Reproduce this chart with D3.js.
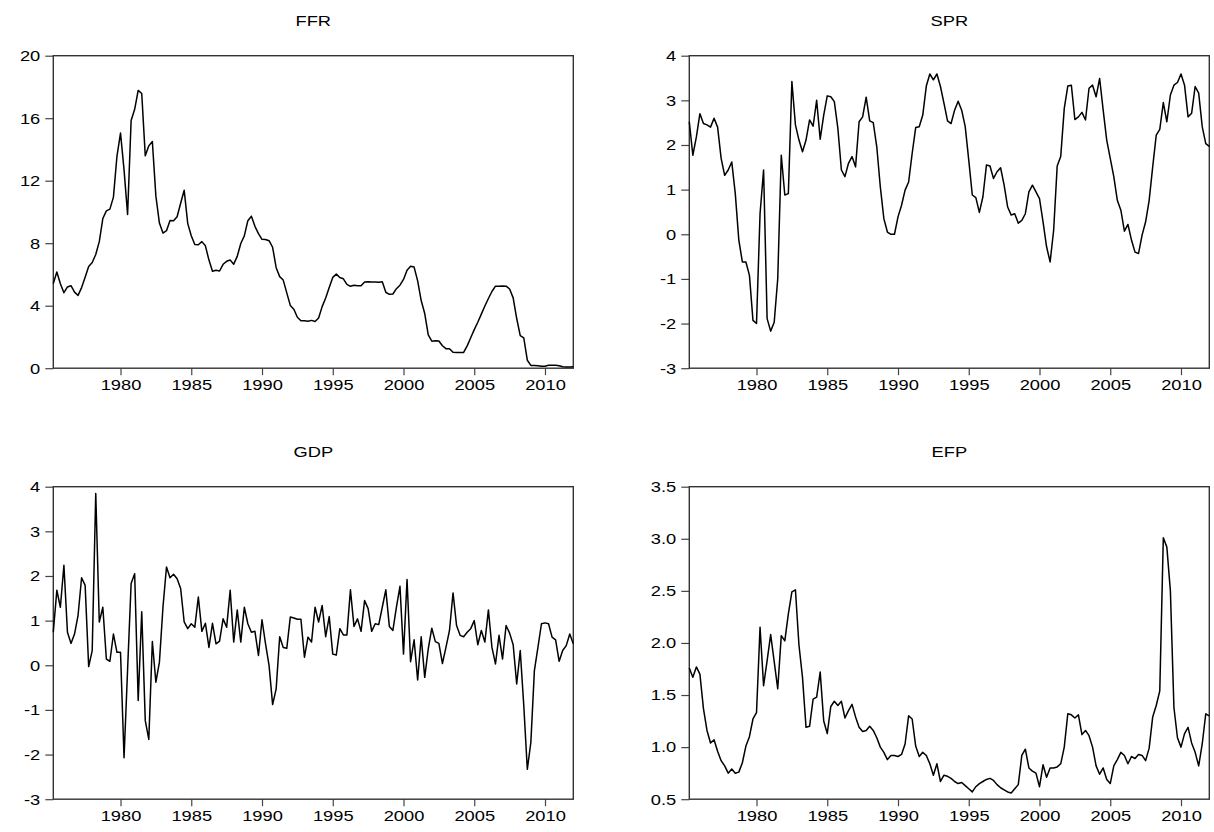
<!DOCTYPE html>
<html>
<head>
<meta charset="utf-8">
<script src="https://cdn.jsdelivr.net/npm/d3@7"></script>
<style>
  body { margin: 0; background: #fff; }
  svg { display: block; }
  text { font-family: Arial, "Liberation Sans", sans-serif; fill: #000; }
</style>
</head>
<body>
<script>
// Quarterly series, 1975Q2 .. 2012Q1 (148 observations)
const START = 1975.25;
const yearTicks = [1980, 1985, 1990, 1995, 2000, 2005, 2010];

const ffr = [
  5.42, 6.16, 5.41,
  4.83, 5.20, 5.28, 4.87,  4.66, 5.16, 5.82, 6.51,  6.76, 7.28, 8.10, 9.58,
  10.07, 10.18, 10.95, 13.58,  15.05, 12.69, 9.84, 15.85,  16.57, 17.78, 17.58, 13.59,
  14.23, 14.51, 11.01, 9.29,  8.65, 8.80, 9.46, 9.43,  9.69, 10.56, 11.39, 9.27,
  8.48, 7.92, 7.90, 8.10,  7.83, 6.92, 6.21, 6.27,  6.22, 6.65, 6.84, 6.92,
  6.66, 7.16, 7.98, 8.47,  9.44, 9.73, 9.08, 8.61,  8.25, 8.24, 8.16, 7.74,
  6.43, 5.86, 5.64, 4.82,  4.02, 3.77, 3.26, 3.04,  3.04, 3.00, 3.06, 2.99,
  3.21, 3.94, 4.49, 5.17,  5.81, 6.02, 5.80, 5.72,  5.36, 5.24, 5.31, 5.28,
  5.28, 5.52, 5.53, 5.51,  5.52, 5.50, 5.53, 4.86,  4.73, 4.75, 5.09, 5.31,
  5.68, 6.27, 6.52, 6.47,  5.59, 4.33, 3.50, 2.13,  1.73, 1.75, 1.74, 1.44,
  1.25, 1.25, 1.02, 1.00,  1.00, 1.01, 1.43, 1.95,  2.47, 2.94, 3.46, 3.98,
  4.46, 4.91, 5.25, 5.25,  5.26, 5.25, 5.07, 4.50,  3.18, 2.09, 1.94, 0.51,
  0.18, 0.18, 0.16, 0.12,  0.13, 0.19, 0.19, 0.19,  0.16, 0.09, 0.08, 0.07,
  0.10
];

const spr = [
  2.52, 1.77, 2.18,
  2.70, 2.48, 2.45, 2.40,  2.60, 2.40, 1.70, 1.32,  1.44, 1.62, 0.91, -0.13,
  -0.62, -0.62, -0.92, -1.93,  -2.00, 0.46, 1.44, -1.89,  -2.17, -1.97, -1.00, 1.77,
  0.88, 0.91, 3.42, 2.45,  2.11, 1.85, 2.11, 2.56,  2.42, 3.00, 2.13, 2.67,
  3.10, 3.08, 2.97, 2.37,  1.44, 1.29, 1.59, 1.74,  1.51, 2.52, 2.63, 3.07,
  2.54, 2.50, 1.96, 1.06,  0.35, 0.05, 0.00, 0.00,  0.39, 0.65, 0.99, 1.17,
  1.81, 2.39, 2.41, 2.67,  3.32, 3.59, 3.46, 3.59,  3.31, 2.93, 2.54, 2.48,
  2.78, 2.98, 2.78, 2.41,  1.66, 0.88, 0.82, 0.49,  0.84, 1.55, 1.53, 1.25,
  1.40, 1.49, 1.10, 0.61,  0.43, 0.46, 0.25, 0.31,  0.46, 0.95, 1.10, 0.95,
  0.80, 0.28, -0.28, -0.62,  0.09, 1.53, 1.74, 2.82,  3.32, 3.34, 2.57, 2.63,
  2.73, 2.56, 3.27, 3.34,  3.08, 3.49, 2.78, 2.11,  1.70, 1.29, 0.76, 0.54,
  0.07, 0.22, -0.13, -0.40,  -0.43, -0.02, 0.28, 0.76,  1.51, 2.22, 2.35, 2.95,
  2.52, 3.12, 3.34, 3.40,  3.59, 3.34, 2.63, 2.71,  3.31, 3.16, 2.41, 2.03,
  1.97
];

const gdp = [
  0.74, 1.68, 1.30,
  2.24, 0.74, 0.49, 0.70,  1.12, 1.96, 1.79, -0.03,  0.33, 3.85, 0.97, 1.30,
  0.14, 0.09, 0.70, 0.29,  0.29, -2.07, -0.10, 1.83,  2.05, -0.79, 1.20, -1.24,
  -1.66, 0.53, -0.38, 0.07,  1.30, 2.20, 1.96, 2.04,  1.94, 1.72, 0.97, 0.82,
  0.93, 0.85, 1.53, 0.76,  0.94, 0.40, 0.94, 0.48,  0.54, 1.04, 0.85, 1.68,
  0.52, 1.24, 0.52, 1.30,  0.93, 0.74, 0.76, 0.22,  1.02, 0.48, -0.01, -0.88,
  -0.53, 0.64, 0.40, 0.38,  1.08, 1.06, 1.03, 1.03,  0.18, 0.63, 0.52, 1.30,
  0.97, 1.34, 0.64, 1.09,  0.25, 0.23, 0.82, 0.68,  0.68, 1.69, 0.87, 1.04,
  0.76, 1.45, 1.27, 0.76,  0.93, 0.91, 1.30, 1.69,  0.87, 0.78, 1.30, 1.77,
  0.25, 1.92, 0.08, 0.57,  -0.33, 0.64, -0.27, 0.37,  0.83, 0.53, 0.49, 0.04,
  0.40, 0.78, 1.62, 0.89,  0.67, 0.64, 0.74, 0.82,  1.00, 0.46, 0.78, 0.52,
  1.24, 0.40, 0.03, 0.67,  0.14, 0.89, 0.72, 0.46,  -0.42, 0.33, -0.90, -2.33,
  -1.73, -0.12, 0.40, 0.93,  0.95, 0.93, 0.63, 0.57,  0.09, 0.33, 0.44, 0.70,
  0.48
];

const efp = [
  1.76, 1.67, 1.77,
  1.70, 1.37, 1.16, 1.04,  1.07, 0.96, 0.87, 0.82,  0.75, 0.79, 0.75, 0.76,
  0.85, 1.01, 1.10, 1.27,  1.33, 2.15, 1.59, 1.83,  2.08, 1.82, 1.56, 2.07,
  2.02, 2.28, 2.49, 2.51,  1.98, 1.67, 1.19, 1.20,  1.46, 1.48, 1.72, 1.25,
  1.13, 1.39, 1.44, 1.40,  1.44, 1.28, 1.35, 1.41,  1.29, 1.19, 1.15, 1.16,
  1.20, 1.16, 1.09, 1.00,  0.95, 0.88, 0.92, 0.92,  0.91, 0.93, 1.03, 1.30,
  1.27, 1.01, 0.91, 0.95,  0.92, 0.84, 0.73, 0.84,  0.67, 0.73, 0.72, 0.70,
  0.67, 0.65, 0.66, 0.63,  0.60, 0.57, 0.62, 0.65,  0.67, 0.69, 0.70, 0.68,
  0.64, 0.61, 0.59, 0.57,  0.56, 0.60, 0.64, 0.92,  0.98, 0.80, 0.77, 0.75,
  0.62, 0.83, 0.71, 0.80,  0.80, 0.81, 0.84, 1.00,  1.32, 1.31, 1.28, 1.31,
  1.12, 1.16, 1.11, 1.00,  0.82, 0.74, 0.80, 0.69,  0.65, 0.82, 0.88, 0.95,
  0.92, 0.84, 0.91, 0.89,  0.93, 0.92, 0.87, 0.99,  1.29, 1.40, 1.54, 3.01,
  2.92, 2.50, 1.38, 1.09,  1.00, 1.13, 1.19, 1.04,  0.95, 0.82, 1.03, 1.32,
  1.30
];

const ffrTicks = [0, 4, 8, 12, 16, 20];
const sprTicks = [-3, -2, -1, 0, 1, 2, 3, 4];
const gdpTicks = [-3, -2, -1, 0, 1, 2, 3, 4];
const efpTicks = [0.5, 1.0, 1.5, 2.0, 2.5, 3.0, 3.5];

// Layout
const WIDTH = 1214;
const HEIGHT = 832;
const PLOT_W = 520;
const PLOT_H = 312.5;
const COLS = [53.3, 689.3];
const ROWS = [55.7, 486.7];
const TEXT_SX = 1.22;   // the source graph's lettering is horizontally stretched

const svg = d3.select("body")
  .append("svg")
  .attr("width", WIDTH)
  .attr("height", HEIGHT);

const intFmt = (d) => String(d);

const panels = [
  { title: "FFR", values: ffr, domain: [0, 20], ticks: ffrTicks, fmt: intFmt, col: 0, row: 0 },
  { title: "SPR", values: spr, domain: [-3, 4], ticks: sprTicks, fmt: intFmt, col: 1, row: 0 },
  { title: "GDP", values: gdp, domain: [-3, 4], ticks: gdpTicks, fmt: intFmt, col: 0, row: 1 },
  { title: "EFP", values: efp, domain: [0.5, 3.5], ticks: efpTicks, fmt: d3.format(".1f"), col: 1, row: 1 }
];

// stretch a text element horizontally around its anchor point
function stretch(sel) {
  sel.each(function() {
    const t = d3.select(this);
    const tx = +t.attr("x") || 0;
    const ty = +t.attr("y") || 0;
    t.attr("x", 0).attr("y", 0)
      .attr("transform", `translate(${tx}, ${ty}) scale(${TEXT_SX}, 1)`);
  });
}

panels.forEach((p) => {
  const left = COLS[p.col];
  const top = ROWS[p.row];
  const series = p.values.map((v, i) => ({ t: START + i * 0.25, v: v }));

  const x = d3.scaleLinear()
    .domain([START, START + (p.values.length - 1) * 0.25])
    .range([0, PLOT_W]);

  const y = d3.scaleLinear()
    .domain(p.domain)
    .range([PLOT_H, 0]);

  const g = svg.append("g")
    .attr("transform", `translate(${left}, ${top})`);

  // x axis
  const xAxis = g.append("g")
    .attr("transform", `translate(0, ${PLOT_H})`)
    .call(d3.axisBottom(x).tickValues(yearTicks).tickFormat(d3.format("d")).tickSize(7).tickPadding(4));

  // y axis
  const yAxis = g.append("g")
    .call(d3.axisLeft(y).tickValues(p.ticks).tickFormat(p.fmt).tickSize(8).tickPadding(5));

  [xAxis, yAxis].forEach((ax) => {
    ax.select(".domain").remove();
    ax.selectAll(".tick line").attr("stroke", "#444").attr("stroke-width", 1.2);
    ax.selectAll(".tick text")
      .style("font-family", "Arial, 'Liberation Sans', sans-serif")
      .style("font-size", "15px")
      .attr("fill", "#000")
      .call(stretch);
  });

  // frame
  g.append("rect")
    .attr("x", 0)
    .attr("y", 0)
    .attr("width", PLOT_W)
    .attr("height", PLOT_H)
    .attr("fill", "none")
    .attr("stroke", "#333")
    .attr("stroke-width", 1.4);

  // series line
  const line = d3.line()
    .x((d) => x(d.t))
    .y((d) => y(d.v));

  g.append("path")
    .datum(series)
    .attr("fill", "none")
    .attr("stroke", "#000")
    .attr("stroke-width", 1.5)
    .attr("stroke-linejoin", "round")
    .attr("d", line);

  // title
  g.append("text")
    .attr("x", PLOT_W / 2)
    .attr("y", -30)
    .attr("text-anchor", "middle")
    .style("font-size", "15px")
    .text(p.title)
    .call(stretch);
});
</script>
</body>
</html>
